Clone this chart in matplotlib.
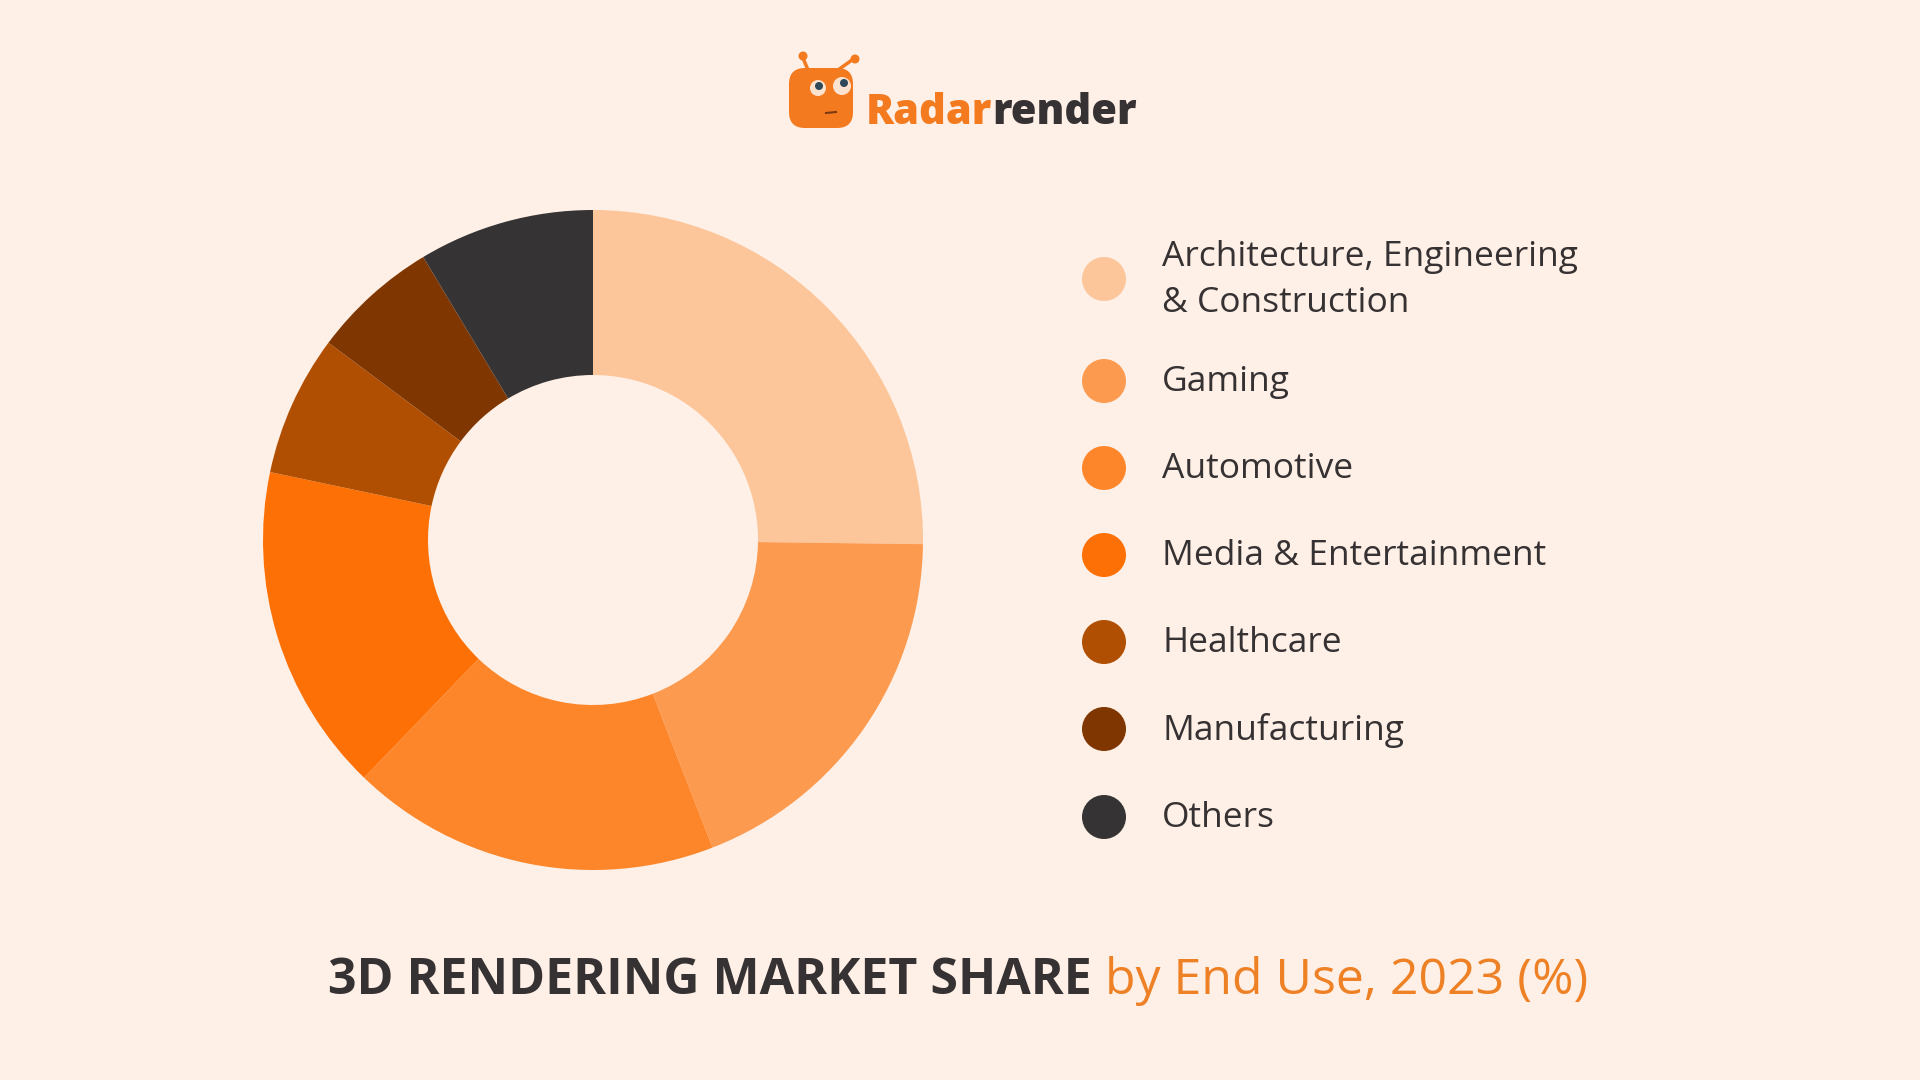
import matplotlib.pyplot as plt
from matplotlib.patches import Circle, FancyBboxPatch, Ellipse

# market share by end use, 2023 (%)
segments = ['Architecture, Engineering\n& Construction', 'Gaming', 'Automotive',
            'Media & Entertainment', 'Healthcare', 'Manufacturing', 'Others']
shares = [25.2, 18.9, 18.1, 16.1, 6.9, 6.2, 8.6]
colors = ['#FDC59A', '#FC9A50', '#FD862B', '#FD7005', '#B04E02', '#7F3601', '#353334']

bg = '#FEF0E6'
dark = '#363132'
orange = '#EE8125'
logo_orange = '#F47A1F'

fig = plt.figure(figsize=(19.2, 10.8), dpi=100, facecolor=bg)

# donut
ax = fig.add_axes([263 / 1920, 210 / 1080, 660 / 1920, 660 / 1080])
ax.pie(shares, colors=colors, startangle=90, counterclock=False, radius=1,
       wedgeprops=dict(width=0.5, linewidth=0))
ax.set_xlim(-1, 1)
ax.set_ylim(-1, 1)
ax.set_aspect('equal')
ax.axis('off')

# overlay in pixel units for legend, logo and title
ov = fig.add_axes([0, 0, 1, 1], facecolor='none')
ov.set_xlim(0, 1920)
ov.set_ylim(1080, 0)
ov.axis('off')

row_y = [279, 381, 468, 555, 642, 729, 817]
for y, lab, c in zip(row_y, segments, colors):
    ov.add_patch(Circle((1104, y), 22, color=c, lw=0))
    ov.text(1162, y + 1, lab, fontsize=25.5, family='Open Sans', color=dark,
            va='center', ha='left', linespacing=1.5)

# logo
ov.add_patch(FancyBboxPatch((789, 68), 64, 60, boxstyle='round,pad=0,rounding_size=16',
                            color=logo_orange, lw=0))
ov.plot([808, 803], [70, 58], color=logo_orange, lw=2.5)
ov.plot([838, 852], [70, 60], color=logo_orange, lw=2.5)
ov.add_patch(Circle((803, 56), 4.5, color=logo_orange, lw=0))
ov.add_patch(Circle((855, 59), 4.5, color=logo_orange, lw=0))
ov.add_patch(Ellipse((818, 88), 16, 16, color='#FCE3CF', lw=0))
ov.add_patch(Ellipse((842, 86), 18, 18, color='#FCE3CF', lw=0))
ov.add_patch(Circle((819, 86), 4, color='#2E4A5A', lw=0))
ov.add_patch(Circle((844, 83), 4, color='#2E4A5A', lw=0))
ov.plot([826, 836], [113, 112], color='#7A3A10', lw=1.5)

fig.canvas.draw()
r = fig.canvas.get_renderer()

t1 = ov.text(866, 124, 'Radar', fontsize=30, family='Open Sans', weight='heavy',
             color=logo_orange, va='baseline', ha='left')
w1 = t1.get_window_extent(r).width
ov.text(866 + w1, 124, 'render', fontsize=30, family='Open Sans', weight='heavy',
        color=dark, va='baseline', ha='left')

# title in two styles, centred together
a = ov.text(0, 994, '3D RENDERING MARKET SHARE', fontsize=36, family='Open Sans',
            weight='bold', color=dark, va='baseline', ha='left')
b = ov.text(0, 994, ' by End Use, 2023 (%)', fontsize=36, family='Open Sans',
            color=orange, va='baseline', ha='left')
wa = a.get_window_extent(r).width
wb = b.get_window_extent(r).width
x0 = 958 - (wa + wb) / 2
a.set_x(x0)
b.set_x(x0 + wa)

fig.savefig('out.png', dpi=100, facecolor=bg)
